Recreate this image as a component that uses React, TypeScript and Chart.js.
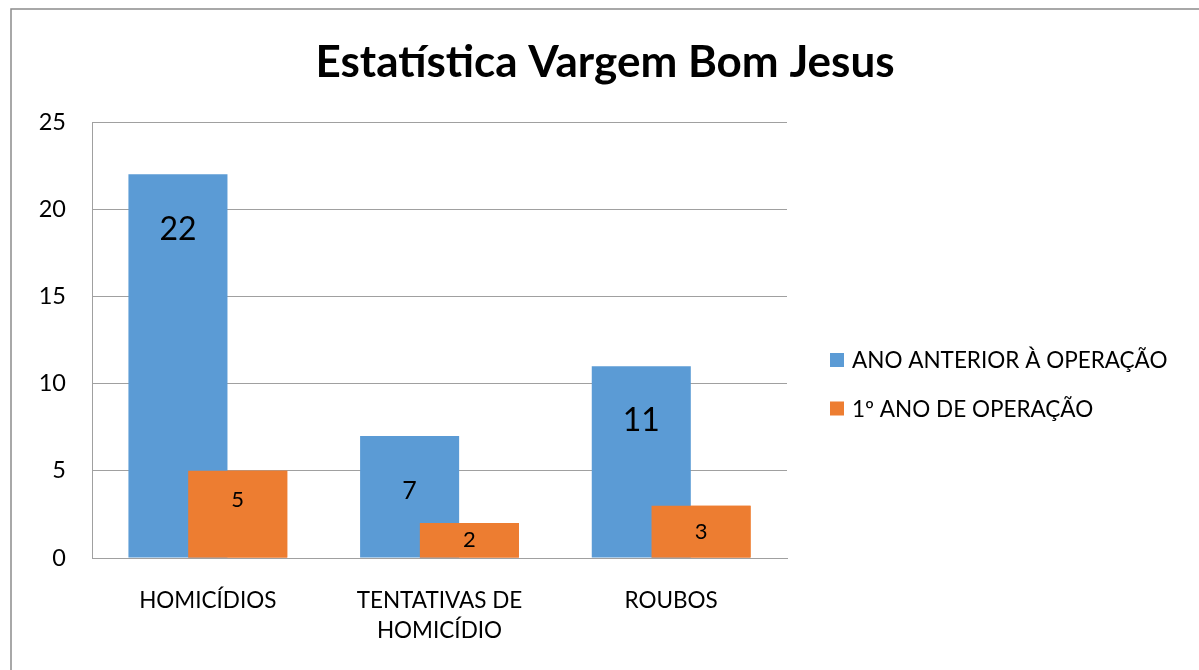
import React, { useEffect, useRef } from "react";
import { Chart, registerables } from "chart.js";

Chart.register(...registerables);

const categories: (string | string[])[] = ["HOMICÍDIOS", ["TENTATIVAS DE", "HOMICÍDIO"], "ROUBOS"];
const seriesNames = ["ANO ANTERIOR À OPERAÇÃO", "1º ANO DE OPERAÇÃO"];
const beforeValues = [22, 7, 11];
const firstYearValues = [5, 2, 3];
const yTicks = [0, 5, 10, 15, 20, 25];
const titleText = "Estatística Vargem Bom Jesus";

const seriesColors = ["#5B9BD5", "#ED7D31"];
const beforeLabelSizes = [32, 25, 32];
const FONT = "Lato, 'Open Sans', sans-serif";

export default function App() {
  const ref = useRef<HTMLCanvasElement | null>(null);

  useEffect(() => {
    const canvas = ref.current;
    if (!canvas) return;

    const decor = {
      id: "decor",
      beforeDraw(chart: any) {
        const ctx = chart.ctx;
        ctx.save();
        ctx.fillStyle = "#ffffff";
        ctx.fillRect(0, 0, chart.width, chart.height);
        ctx.strokeStyle = "#8c8c8c";
        ctx.lineWidth = 1.5;
        ctx.beginPath();
        ctx.moveTo(11, chart.height + 5);
        ctx.lineTo(11, 9);
        ctx.lineTo(chart.width + 5, 9);
        ctx.stroke();
        // title
        ctx.fillStyle = "#000";
        ctx.font = `bold 44px ${FONT}`;
        ctx.textAlign = "center";
        ctx.textBaseline = "alphabetic";
        ctx.fillText(titleText, 605, 77);
        // legend
        const ca = chart.chartArea;
        seriesNames.forEach((name, i) => {
          const cy = 360 + i * 48.5;
          const x0 = ca.right + 43;
          ctx.fillStyle = seriesColors[i];
          ctx.fillRect(x0, cy - 7, 14, 14);
          ctx.fillStyle = "#000";
          ctx.font = `22.5px ${FONT}`;
          ctx.textAlign = "left";
          ctx.textBaseline = "middle";
          ctx.fillText(name, x0 + 22, cy + 1);
        });
        ctx.restore();
      },
      afterDatasetsDraw(chart: any) {
        // draw second series on top of the first (overlapping bars)
        const meta1 = chart.getDatasetMeta(1);
        meta1.controller.draw();
        const ctx = chart.ctx;
        ctx.save();
        ctx.fillStyle = "#000";
        ctx.textAlign = "center";
        ctx.textBaseline = "middle";
        const meta0 = chart.getDatasetMeta(0);
        meta0.data.forEach((bar: any, i: number) => {
          ctx.font = `${beforeLabelSizes[i]}px ${FONT}`;
          ctx.fillText(String(beforeValues[i]), bar.x, bar.y + 55);
        });
        meta1.data.forEach((bar: any, i: number) => {
          ctx.font = `22px ${FONT}`;
          const y = Math.min((bar.y + bar.base) / 2, bar.y + 29);
          ctx.fillText(String(firstYearValues[i]), bar.x, y);
        });
        ctx.restore();
      },
    };

    const chart = new Chart(canvas, {
      type: "bar",
      data: {
        labels: categories,
        datasets: [
          {
            label: seriesNames[0],
            data: beforeValues,
            backgroundColor: seriesColors[0],
            borderWidth: 0,
            categoryPercentage: 0.516,
            barPercentage: 1.657,
          },
          {
            label: seriesNames[1],
            data: firstYearValues,
            backgroundColor: seriesColors[1],
            borderWidth: 0,
            categoryPercentage: 0.516,
            barPercentage: 1.657,
          },
        ],
      },
      options: {
        responsive: false,
        animation: false,
        layout: { padding: { top: 122, right: 412, bottom: 0, left: 0 } },
        plugins: {
          legend: { display: false },
          title: { display: false },
          tooltip: { enabled: false },
        },
        scales: {
          x: {
            grid: { display: false, drawTicks: false },
            border: { display: true, color: "#a0a0a0", width: 1 },
            ticks: {
              color: "#000",
              font: { family: FONT, size: 22.5, lineHeight: 1.333 },
              padding: 28,
              maxRotation: 0,
              autoSkip: false,
            },
            afterFit(scale: any) {
              scale.height = 112;
            },
          },
          y: {
            min: 0,
            max: 25,
            afterBuildTicks(scale: any) {
              scale.ticks = yTicks.map((v) => ({ value: v }));
            },
            grid: { color: "#a0a0a0", lineWidth: 1, drawTicks: false },
            border: { display: true, color: "#a0a0a0", width: 1 },
            ticks: {
              color: "#000",
              font: { family: FONT, size: 23.5 },
              padding: 26,
            },
            afterFit(scale: any) {
              scale.width = 92;
            },
          },
        },
      },
      plugins: [decor],
    } as any);

    return () => chart.destroy();
  }, []);

  return (
    <div style={{ position: "absolute", left: 0, top: 0, width: 1199, height: 670, background: "#fff" }}>
      <canvas ref={ref} width={1199} height={670} style={{ display: "block" }} />
    </div>
  );
}
